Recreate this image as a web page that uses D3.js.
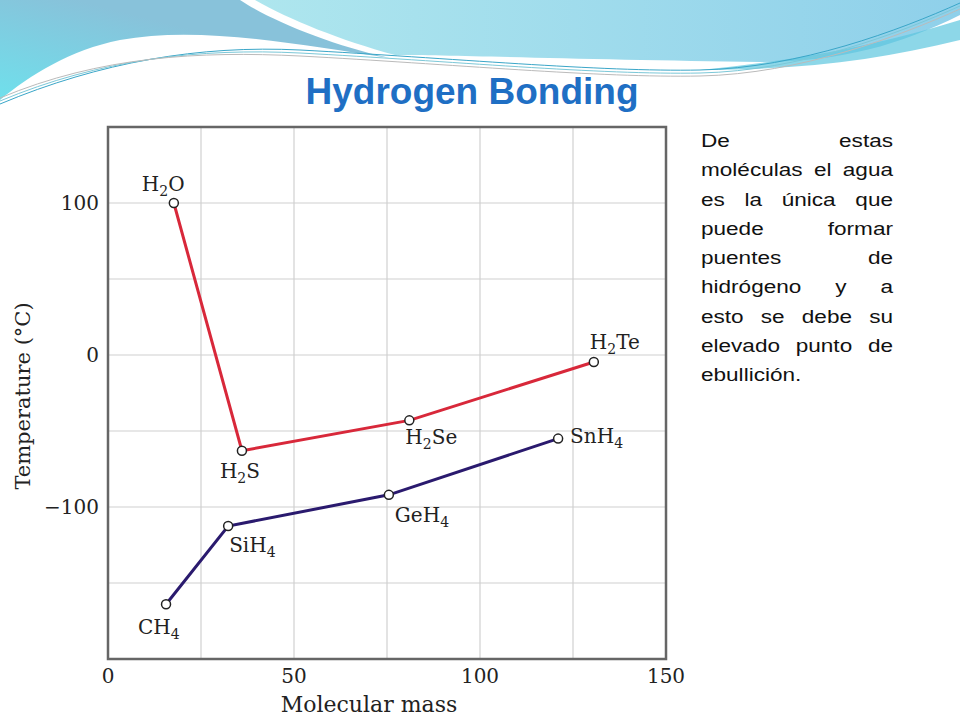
<!DOCTYPE html>
<html><head><meta charset="utf-8">
<script src="https://cdn.jsdelivr.net/npm/d3@7"></script>
<style>body{margin:0;background:#fff}</style></head>
<body><svg id="c" width="960" height="720"></svg>
<script>
// Data
const hydrides = ['H2O', 'H2S', 'H2Se', 'H2Te'];
const hydrideMass = [17.7, 36, 81, 130.6];
const hydrideBp = [100, -63, -43, -4.6];
const group14 = ['CH4', 'SiH4', 'GeH4', 'SnH4'];
const group14Mass = [15.6, 32.3, 75.5, 121];
const group14Bp = [-164, -112.5, -92, -55];
const xTicks = [0, 50, 100, 150];
const yTicks = [100, 0, -100];

const svg = d3.select('#c');

// Header waves
const defs = svg.append('defs');
const g1 = defs.append('linearGradient').attr('id', 'w1').attr('x1', 0).attr('x2', 1).attr('y1', 1).attr('y2', 0);
g1.append('stop').attr('offset', 0).attr('stop-color', '#6fe0ec');
g1.append('stop').attr('offset', 0.6).attr('stop-color', '#88c2da');
const g2 = defs.append('linearGradient').attr('id', 'w2').attr('x1', 0).attr('x2', 1);
g2.append('stop').attr('offset', 0).attr('stop-color', '#aee6ee');
g2.append('stop').attr('offset', 1).attr('stop-color', '#8fd0ea');
svg.append('path').attr('fill', 'url(#w1)')
    .attr('d', 'M0,0 H240 C270,20 330,45 390,58 C300,45 200,25 120,40 C70,50 30,75 0,100 Z');
svg.append('path').attr('fill', 'url(#w2)')
    .attr('d', 'M255,0 H960 V15 C900,45 840,62 760,62 C600,60 450,55 395,55 C340,40 290,20 255,0 Z');
svg.append('path').attr('fill', '#5cc6de').attr('opacity', 0.7)
    .attr('d', 'M700,70 C800,60 880,45 960,20 V40 C880,60 800,70 700,70 Z');
[['#3aa6c8', 0], ['#7cc8d8', 3], ['#bbb', 6]].forEach(([c, o]) => {
    svg.append('path').attr('fill', 'none').attr('stroke', c).attr('stroke-width', 1)
        .attr('d', `M0,${104 - o} C100,${62 - o} 200,${45 + o} 300,${50 + o} C450,${58 + o} 600,${72 + o} 700,${70 + o} C800,${68 + o} 900,${30 + o} 960,${3 + o}`);
});

svg.append('text').attr('x', 472).attr('y', 104).attr('text-anchor', 'middle')
    .attr('font-family', 'Liberation Sans, Arial, sans-serif').attr('font-weight', 'bold')
    .attr('font-size', 37).attr('fill', '#1f6fc4').text('Hydrogen Bonding');

// Scales
const x = d3.scaleLinear().domain([0, 150]).range([108, 666]);
const y = d3.scaleLinear().domain([-200, 150]).range([659, 127]);
const serif = 'DejaVu Serif, serif';

const plot = svg.append('g');
plot.append('rect').attr('x', 108).attr('y', 127).attr('width', 558).attr('height', 532).attr('fill', '#fff');
plot.selectAll('.gx').data(d3.range(25, 150, 25)).join('line')
    .attr('x1', d => x(d)).attr('x2', d => x(d)).attr('y1', 127).attr('y2', 659)
    .attr('stroke', '#d0d0d0').attr('stroke-width', 1.2);
plot.selectAll('.gy').data(d3.range(-150, 150, 50)).join('line')
    .attr('y1', d => y(d)).attr('y2', d => y(d)).attr('x1', 108).attr('x2', 666)
    .attr('stroke', '#d0d0d0').attr('stroke-width', 1.2);
plot.append('rect').attr('x', 108).attr('y', 127).attr('width', 558).attr('height', 532)
    .attr('fill', 'none').attr('stroke', '#666').attr('stroke-width', 2.5);

// Tick labels
plot.selectAll('.tx').data(xTicks).join('text')
    .attr('x', d => x(d)).attr('y', 683).attr('text-anchor', 'middle')
    .attr('font-family', serif).attr('font-size', 20).attr('fill', '#222').text(d => d);
plot.selectAll('.ty').data(yTicks).join('text')
    .attr('x', 99).attr('y', d => y(d) + 7).attr('text-anchor', 'end')
    .attr('font-family', serif).attr('font-size', 20).attr('fill', '#222')
    .text(d => d < 0 ? '\u2212' + Math.abs(d) : d);
plot.append('text').attr('x', 369).attr('y', 712).attr('text-anchor', 'middle')
    .attr('font-family', serif).attr('font-size', 22).attr('fill', '#222').text('Molecular mass');
plot.append('text').attr('transform', 'translate(30,396) rotate(-90)').attr('text-anchor', 'middle')
    .attr('font-family', serif).attr('font-size', 21).attr('fill', '#222').text('Temperature (\u00B0C)');

// Series
const line = d3.line().x(d => x(d.m)).y(d => y(d.t));
function series(names, mass, bp, color, offs) {
    const pts = names.map((n, i) => ({ n, m: mass[i], t: bp[i], o: offs[i] }));
    plot.append('path').datum(pts).attr('d', line).attr('fill', 'none')
        .attr('stroke', color).attr('stroke-width', 3);
    plot.selectAll(null).data(pts).join('circle')
        .attr('cx', d => x(d.m)).attr('cy', d => y(d.t)).attr('r', 4.5)
        .attr('fill', '#fff').attr('stroke', '#222').attr('stroke-width', 1.5);
    const t = plot.selectAll(null).data(pts).join('text')
        .attr('x', d => x(d.m) + d.o[0]).attr('y', d => y(d.t) + d.o[1])
        .attr('font-family', serif).attr('font-size', 20).attr('fill', '#222');
    t.each(function(d) {
        const el = d3.select(this);
        let prevSub = false;
        d.n.split(/(\d)/).forEach(p => {
            if (!p) return;
            if (/\d/.test(p)) { el.append('tspan').attr('font-size', 14).attr('dy', 5).text(p); prevSub = true; }
            else { el.append('tspan').attr('dy', prevSub ? -5 : 0).text(p); prevSub = false; }
        });
    });
}
series(hydrides, hydrideMass, hydrideBp, '#d8283a', [[-32, -12], [-22, 27], [-4, 24], [-4, -13]]);
series(group14, group14Mass, group14Bp, '#2a1a6e', [[-28, 30], [1, 26], [6, 27], [12, 4]]);

// Side text
const side = ['De estas', 'moléculas el agua', 'es la única que', 'puede formar', 'puentes de', 'hidrógeno y a', 'esto se debe su', 'elevado punto de', 'ebullición.'];
const sx0 = 701, sx1 = 893, sc = 1.22;
side.forEach((s, i) => {
    const words = s.split(' ');
    const last = i === side.length - 1;
    const txt = svg.append('text').attr('y', 147 + i * 29.3)
        .attr('transform', `translate(${sx0},0) scale(${sc},1) translate(${-sx0},0)`)
        .attr('font-family', 'Liberation Sans, Arial, sans-serif').attr('font-size', 18.5).attr('fill', '#111');
    txt.attr('x', sx0).text(s);
    if (last || words.length === 1) return;
    const w = txt.node().getComputedTextLength();
    txt.attr('word-spacing', ((sx1 - sx0) / sc - w) / (words.length - 1));
});
</script></body></html>
